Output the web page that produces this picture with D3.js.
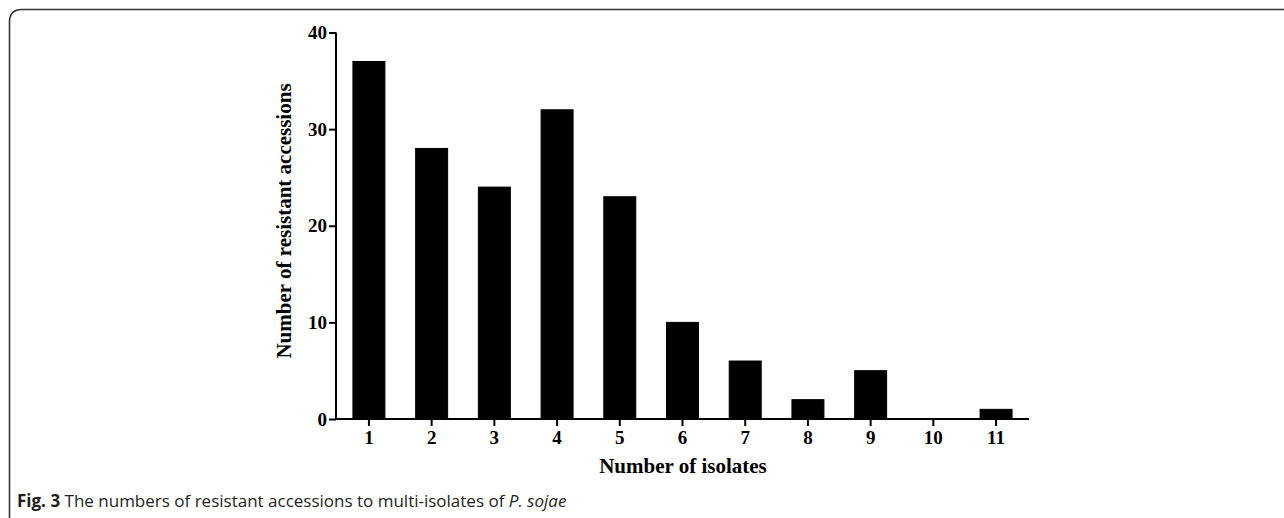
<!DOCTYPE html>
<html>
<head>
<meta charset="utf-8">
<script src="https://cdn.jsdelivr.net/npm/d3@7"></script>
<style>
  html, body { margin: 0; padding: 0; background: #fff; }
  svg { display: block; }
</style>
</head>
<body>
<svg id="chart" width="1284" height="518"></svg>
<script>
// Number of isolates each accession resists, and how many accessions fall in each group
const isolateCounts = ["1", "2", "3", "4", "5", "6", "7", "8", "9", "10", "11"];
const resistantAccessions = [37, 28, 24, 32, 23, 10, 6, 2, 5, 0, 1];
const yTickValues = [0, 10, 20, 30, 40];

const svg = d3.select("#chart");
const W = 1284, H = 518;

// Figure frame: top and left rules with a rounded corner
svg.append("path")
  .attr("d", `M9.5,${H} L9.5,22 Q9.5,9.5 22,9.5 L${W},9.5`)
  .attr("fill", "none")
  .attr("stroke", "#333")
  .attr("stroke-width", 1.6);

const plot = { left: 336, right: 1029, top: 32.5, bottom: 419 };

const x = d3.scaleBand()
  .domain(isolateCounts)
  .range([plot.left, plot.right])
  .paddingInner(0.49)
  .paddingOuter(0.27);

const y = d3.scaleLinear()
  .domain([0, 40])
  .range([plot.bottom, plot.top]);

const serif = "'Liberation Serif', 'Times New Roman', serif";

// Bars
svg.append("g")
  .selectAll("rect")
  .data(resistantAccessions)
  .join("rect")
  .attr("x", (d, i) => x(isolateCounts[i]))
  .attr("y", d => y(d))
  .attr("width", x.bandwidth())
  .attr("height", d => y(0) - y(d))
  .attr("fill", "#000")
  .attr("stroke", "#000")
  .attr("stroke-width", 1);

// Y axis
const yAxis = svg.append("g")
  .attr("transform", `translate(${plot.left},0)`)
  .call(d3.axisLeft(y).tickValues(yTickValues).tickSize(7).tickPadding(2).tickFormat(d3.format("d")));

// X axis
const xAxis = svg.append("g")
  .attr("transform", `translate(0,${plot.bottom})`)
  .call(d3.axisBottom(x).tickSize(7).tickPadding(5).tickSizeOuter(0));

[yAxis, xAxis].forEach(g => {
  g.select(".domain").attr("stroke", "#000").attr("stroke-width", 2);
  g.selectAll(".tick line").attr("stroke", "#000").attr("stroke-width", 2);
  g.selectAll(".tick text")
    .attr("fill", "#000")
    .style("font-family", serif)
    .style("font-weight", "bold")
    .style("font-size", "19px");
});
yAxis.select(".domain").attr("d", `M0,${plot.bottom}V${plot.top}`);
xAxis.select(".domain").attr("d", `M${plot.left},0H${plot.right}`);

// Axis titles
svg.append("text")
  .attr("x", 683)
  .attr("y", 473)
  .attr("text-anchor", "middle")
  .style("font-family", serif)
  .style("font-weight", "bold")
  .style("font-size", "21px")
  .text("Number of isolates");

svg.append("text")
  .attr("transform", `translate(291,221) rotate(-90)`)
  .attr("text-anchor", "middle")
  .style("font-family", serif)
  .style("font-weight", "bold")
  .style("font-size", "21px")
  .text("Number of resistant accessions");

// Caption
const caption = svg.append("text")
  .attr("x", 17)
  .attr("y", 507)
  .style("font-family", "'Open Sans', 'Noto Sans', sans-serif")
  .style("font-size", "17px")
  .attr("fill", "#231f20");
caption.append("tspan").style("font-weight", "bold").text("Fig. 3");
caption.append("tspan").text(" The numbers of resistant accessions to multi-isolates of ");
caption.append("tspan").style("font-style", "italic").text("P. sojae");
</script>
</body>
</html>
